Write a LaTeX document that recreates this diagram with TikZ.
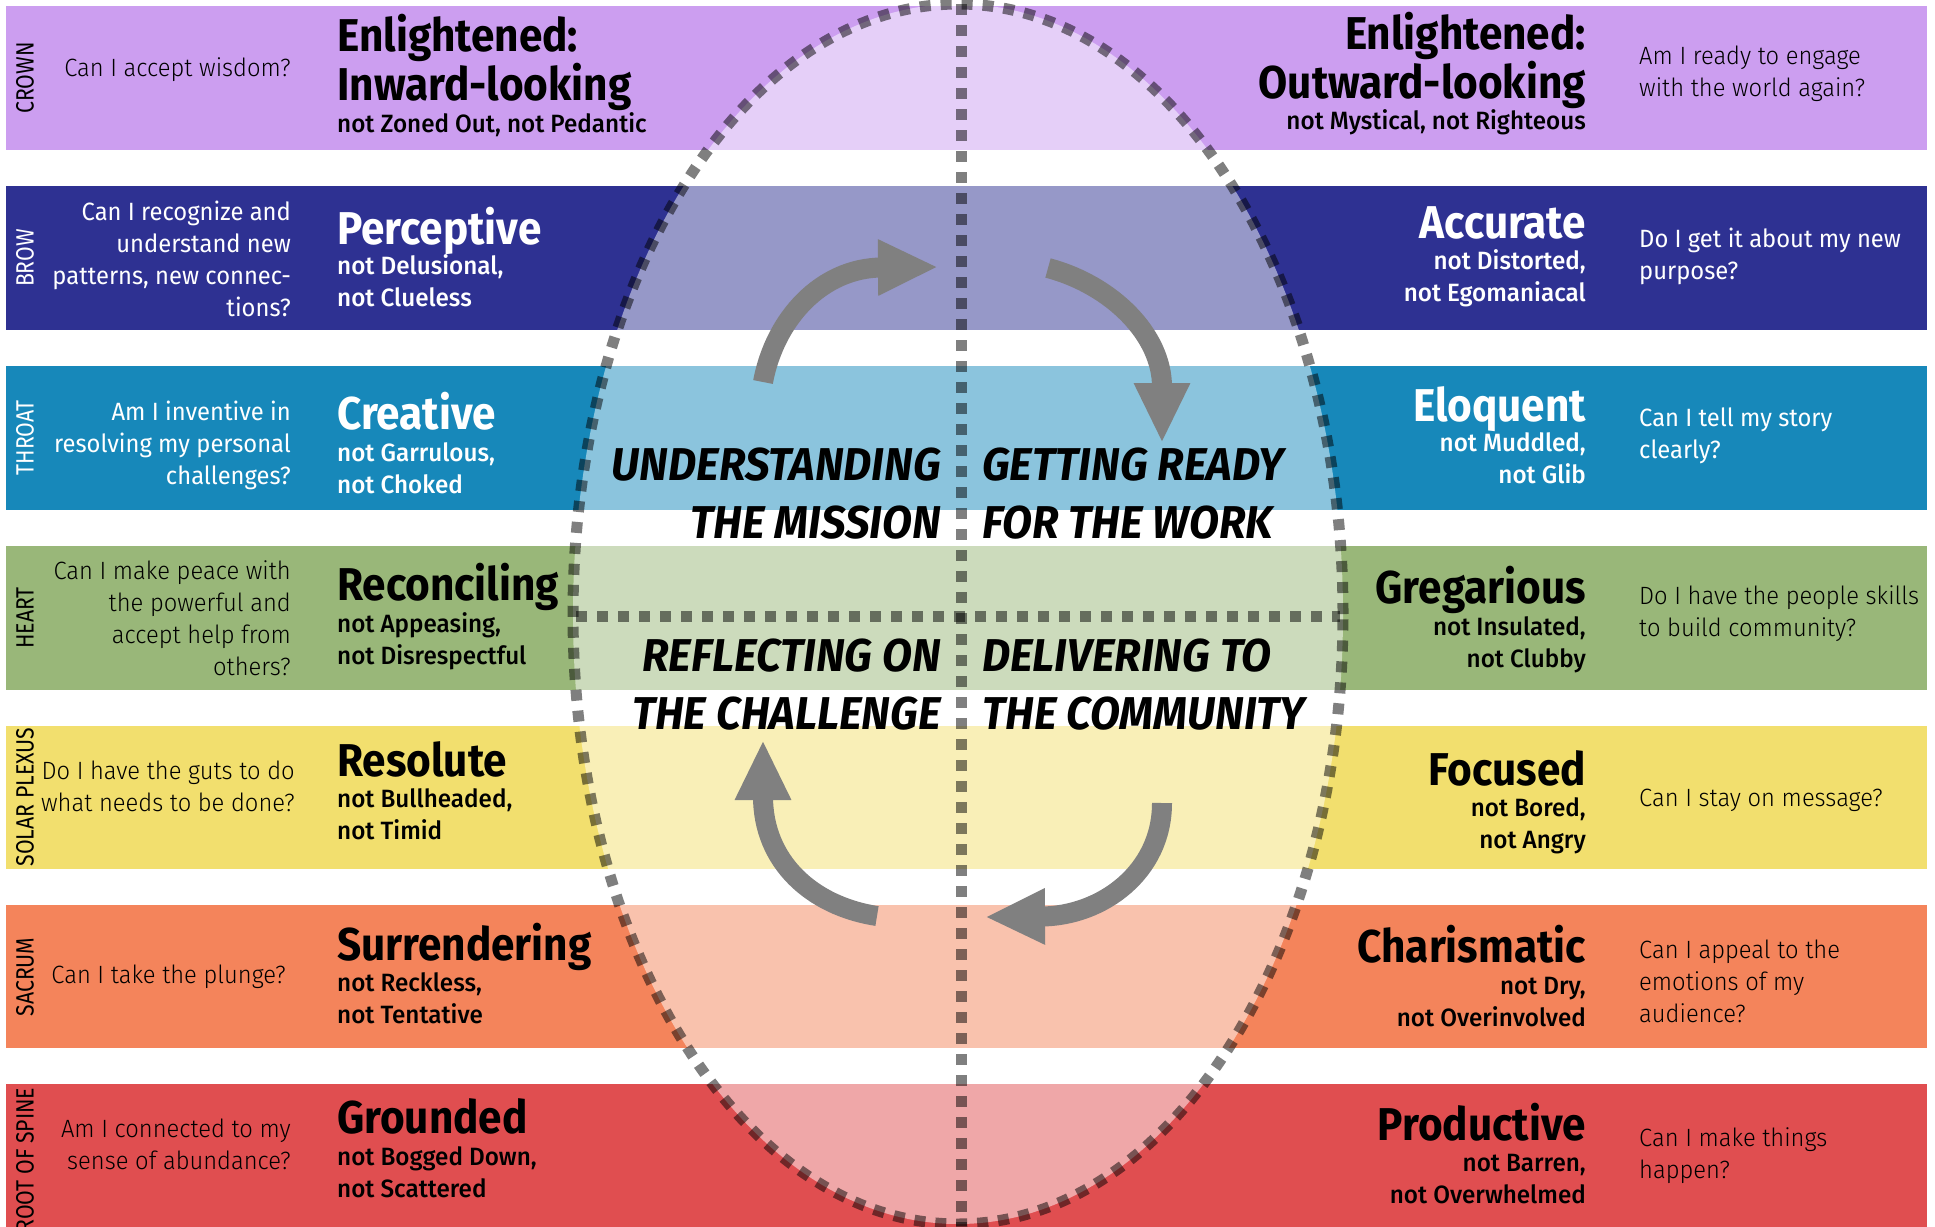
\documentclass[tikz,border=0pt]{standalone}
\usepackage{fontspec}
\setmainfont{Fira Sans}[FakeStretch=0.95]
\newfontfamily\lightfont{Fira Sans Light}[FakeStretch=0.95]
\newfontfamily\medfont{Fira Sans Medium}[FakeStretch=0.97]
\newfontfamily\titlefont{Fira Sans Bold}[FakeStretch=0.92]
\newfontfamily\labelfont{Fira Sans}[FakeStretch=0.85]
\usetikzlibrary{arrows.meta}
\definecolor{crowncol}{HTML}{CC9EF0}
\definecolor{browcol}{HTML}{2E3192}
\definecolor{throatcol}{HTML}{1788BA}
\definecolor{heartcol}{HTML}{99B779}
\definecolor{solarcol}{HTML}{F2DF6E}
\definecolor{sacrumcol}{HTML}{F4845B}
\definecolor{rootcol}{HTML}{E04E50}
\begin{document}
\begin{tikzpicture}[x=1pt,y=-1pt,
	side/.style={rotate=90,inner sep=0pt,font=\labelfont\fontsize{25}{25}\selectfont},
	ql/.style={inner sep=0pt,align=right,anchor=base east,font=\lightfont\fontsize{25}{32}\selectfont},
	qr/.style={inner sep=0pt,align=left,anchor=base west,font=\lightfont\fontsize{25}{32}\selectfont},
	wq/.style={text=white,font=\fontsize{25}{32}\selectfont},
	tl/.style={inner sep=0pt,align=left,anchor=base west,font=\titlefont\fontsize{46}{47}\selectfont},
	tr/.style={inner sep=0pt,align=right,anchor=base east,font=\titlefont\fontsize{46}{47}\selectfont},
	sl/.style={inner sep=0pt,align=left,anchor=base west,font=\medfont\fontsize{25}{32}\selectfont},
	sr/.style={inner sep=0pt,align=right,anchor=base east,font=\medfont\fontsize{25}{32}\selectfont},
	midl/.style={inner sep=0pt,align=right,anchor=base east,font=\bfseries\itshape\fontsize{46}{58}\selectfont},
	midr/.style={inner sep=0pt,align=left,anchor=base west,font=\bfseries\itshape\fontsize{46}{58}\selectfont},
	dots/.style={draw=black,draw opacity=0.5,line width=11pt,dash pattern=on 11pt off 10pt},
	cyc/.style={draw=gray,line width=20pt,-{Triangle[length=60pt,width=52pt]}}]
	\useasboundingbox (0,0) rectangle (1935,1226);
	\fill[crowncol] (6,6) rectangle (1927,150);
	\fill[browcol] (6,186) rectangle (1927,330);
	\fill[throatcol] (6,366) rectangle (1927,510);
	\fill[heartcol] (6,546) rectangle (1927,690);
	\fill[solarcol] (6,726) rectangle (1927,869);
	\fill[sacrumcol] (6,905) rectangle (1927,1048);
	\fill[rootcol] (6,1084) rectangle (1927,1232);
	\begin{scope}
		\clip (958,614) ellipse [x radius=385pt, y radius=610pt];
		\fill[crowncol!50] (6,6) rectangle (1927,150);
		\fill[browcol!50] (6,186) rectangle (1927,330);
		\fill[throatcol!50] (6,366) rectangle (1927,510);
		\fill[heartcol!50] (6,546) rectangle (1927,690);
		\fill[solarcol!50] (6,726) rectangle (1927,869);
		\fill[sacrumcol!50] (6,905) rectangle (1927,1048);
		\fill[rootcol!50] (6,1084) rectangle (1927,1232);
	\end{scope}
	\draw[dots] (958,614) ellipse [x radius=385pt, y radius=610pt];
	\draw[dots] (961,4) -- (961,1226);
	\draw[dots] (576,616) -- (1340,616);
	\coordinate (ulfoot) at (763,382);
	\coordinate (ultip) at (938,267);
	\coordinate (urfoot) at (1048,268);
	\coordinate (urtip) at (1162,443);
	\coordinate (lrfoot) at (1162,803);
	\coordinate (lrtip) at (985,917);
	\coordinate (llfoot) at (877,916);
	\coordinate (lltip) at (763,740);
	\draw[cyc] (ulfoot) .. controls (775,318) and (822,268) .. (ultip);
	\draw[cyc] (urfoot) .. controls (1112,285) and (1162,335) .. (urtip);
	\draw[cyc] (lrfoot) .. controls (1162,872) and (1102,916) .. (lrtip);
	\draw[cyc] (llfoot) .. controls (812,906) and (763,862) .. (lltip);
	\draw (25,78) node [side] (crownlbl) {CROWN};
	\draw (25,258) node [side,text=white] (browlbl) {BROW};
	\draw (25,438) node [side,text=white] (throatlbl) {THROAT};
	\draw (25,618) node [side] (heartlbl) {HEART};
	\draw (25,797) node [side] (solarlbl) {SOLAR PLEXUS};
	\draw (25,977) node [side] (sacrumlbl) {SACRUM};
	\draw (25,1160) node [side] (rootlbl) {ROOT OF SPINE};
	\draw (291,76) node [ql] (crownq) {Can I accept wisdom?};
	\draw (291,316) node [ql,wq] (browq) {Can I recognize and\\understand new\\patterns, new connec-\\tions?};
	\draw (291,484) node [ql,wq] (throatq) {Am I inventive in\\resolving my personal\\challenges?};
	\draw (291,675) node [ql] (heartq) {Can I make peace with\\the powerful and\\accept help from\\others?};
	\draw (295,811) node [ql] (solarq) {Do I have the guts to do\\what needs to be done?};
	\draw (286,983) node [ql] (sacrumq) {Can I take the plunge?};
	\draw (291,1169) node [ql] (rootq) {Am I connected to my\\sense of abundance?};
	\draw (337,100) node [tl] (crownt) {Enlightened:\\Inward-looking};
	\draw (337,132) node [sl] (crowns) {not Zoned Out, not Pedantic};
	\draw (337,244) node [tl,text=white] (browt) {Perceptive};
	\draw (337,306) node [sl,text=white] (brows) {not Delusional,\\not Clueless};
	\draw (337,429) node [tl,text=white] (throatt) {Creative};
	\draw (337,493) node [sl,text=white] (throats) {not Garrulous,\\not Choked};
	\draw (337,600) node [tl] (heartt) {Reconciling};
	\draw (337,664) node [sl] (hearts) {not Appeasing,\\not Disrespectful};
	\draw (337,776) node [tl] (solart) {Resolute};
	\draw (337,839) node [sl] (solars) {not Bullheaded,\\not Timid};
	\draw (337,960) node [tl] (sacrumt) {Surrendering};
	\draw (337,1023) node [sl] (sacrums) {not Reckless,\\not Tentative};
	\draw (337,1133) node [tl] (roott) {Grounded};
	\draw (337,1197) node [sl] (roots) {not Bogged Down,\\not Scattered};
	\draw (1586,98) node [tr] (crownt2) {Enlightened:\\Outward-looking};
	\draw (1586,129) node [sr] (crowns2) {not Mystical, not Righteous};
	\draw (1586,238) node [tr,text=white] (browt2) {Accurate};
	\draw (1586,301) node [sr,text=white] (brows2) {not Distorted,\\not Egomaniacal};
	\draw (1586,421) node [tr,text=white] (throatt2) {Eloquent};
	\draw (1586,483) node [sr,text=white] (throats2) {not Muddled,\\not Glib};
	\draw (1586,603) node [tr] (heartt2) {Gregarious};
	\draw (1586,667) node [sr] (hearts2) {not Insulated,\\not Clubby};
	\draw (1586,785) node [tr] (solart2) {Focused};
	\draw (1586,848) node [sr] (solars2) {not Bored,\\not Angry};
	\draw (1586,962) node [tr] (sacrumt2) {Charismatic};
	\draw (1586,1026) node [sr] (sacrums2) {not Dry,\\not Overinvolved};
	\draw (1586,1140) node [tr] (roott2) {Productive};
	\draw (1586,1203) node [sr] (roots2) {not Barren,\\not Overwhelmed};
	\draw (1639,96) node [qr] (crownq2) {Am I ready to engage\\with the world again?};
	\draw (1639,279) node [qr,wq] (browq2) {Do I get it about my new\\purpose?};
	\draw (1639,458) node [qr,wq] (throatq2) {Can I tell my story\\clearly?};
	\draw (1639,636) node [qr] (heartq2) {Do I have the people skills\\to build community?};
	\draw (1639,806) node [qr] (solarq2) {Can I stay on message?};
	\draw (1639,1022) node [qr] (sacrumq2) {Can I appeal to the\\emotions of my\\audience?};
	\draw (1639,1178) node [qr] (rootq2) {Can I make things\\happen?};
	\draw (941,538) node [midl] (mission) {UNDERSTANDING\\THE MISSION};
	\draw (982,538) node [midr] (work) {GETTING READY\\FOR THE WORK};
	\draw (941,729) node [midl] (challenge) {REFLECTING ON\\THE CHALLENGE};
	\draw (982,729) node [midr] (community) {DELIVERING TO\\THE COMMUNITY};
\end{tikzpicture}
\end{document}
